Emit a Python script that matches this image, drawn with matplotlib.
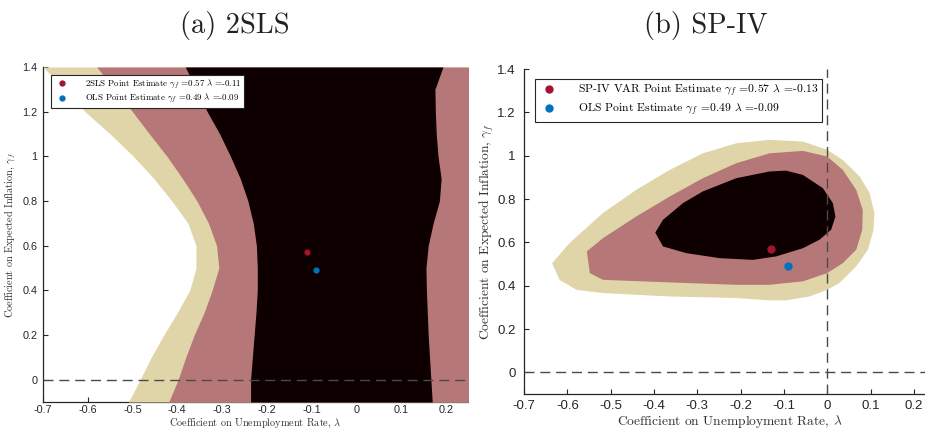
import matplotlib
matplotlib.use("Agg")
import matplotlib.pyplot as plt

plt.rcParams['mathtext.fontset'] = 'cm'
plt.rcParams['axes.unicode_minus'] = False
plt.rcParams['lines.scale_dashes'] = False

# ---------------- data: panel (a) 2SLS ----------------
# confidence-set boundaries, per gamma_f row: lambda at the region edge
gamma_a = [1.40, 1.30, 1.20, 1.10, 1.00, 0.90, 0.80, 0.70, 0.60, 0.50,
           0.40, 0.30, 0.20, 0.10, 0.00, -0.10]
outer_left_a = [-0.700, -0.650, -0.606, -0.550, -0.498, -0.452, -0.412, -0.376,
                -0.358, -0.358, -0.372, -0.400, -0.430, -0.458, -0.483, -0.509]
mid_left_a = [-0.580, -0.540, -0.500, -0.462, -0.423, -0.388, -0.356, -0.330,
              -0.312, -0.307, -0.322, -0.340, -0.362, -0.381, -0.398, -0.419]
inner_left_a = [-0.382, -0.357, -0.333, -0.305, -0.281, -0.259, -0.242, -0.230,
                -0.223, -0.221, -0.221, -0.224, -0.228, -0.232, -0.236, -0.236]
inner_right_a = [0.194, 0.176, 0.177, 0.179, 0.183, 0.190, 0.186, 0.172,
                 0.161, 0.156, 0.157, 0.159, 0.161, 0.164, 0.167, 0.170]
outer_right_a = [0.30] * len(gamma_a)

# ---------------- data: panel (b) SP-IV ----------------
outer_b_lam = [-0.635, -0.595, -0.518, -0.441, -0.364, -0.287, -0.210, -0.133, -0.056,
               0.000, 0.036, 0.075, 0.098, 0.109, 0.107, 0.094, 0.067, 0.028, 0.000,
               -0.041, -0.095, -0.133, -0.210, -0.364, -0.518, -0.579, -0.618]
outer_b_gam = [0.504, 0.596, 0.735, 0.842, 0.934, 1.011, 1.057, 1.073, 1.065,
               1.027, 0.980, 0.904, 0.827, 0.735, 0.658, 0.566, 0.489, 0.412, 0.381,
               0.350, 0.332, 0.332, 0.343, 0.350, 0.366, 0.381, 0.427]
mid_b_lam = [-0.555, -0.518, -0.441, -0.364, -0.287, -0.210, -0.133, -0.056, 0.000,
             0.036, 0.067, 0.082, 0.081, 0.067, 0.036, 0.000, -0.056, -0.133, -0.210,
             -0.364, -0.518, -0.548]
mid_b_gam = [0.558, 0.619, 0.719, 0.811, 0.896, 0.965, 1.011, 1.022, 0.996,
             0.934, 0.842, 0.750, 0.658, 0.566, 0.504, 0.458, 0.420, 0.404, 0.404,
             0.415, 0.427, 0.458]
inner_b_lam = [-0.397, -0.379, -0.333, -0.287, -0.210, -0.133, -0.095, -0.056, -0.010,
               0.013, 0.019, 0.009, -0.018, -0.056, -0.118, -0.172, -0.248, -0.325, -0.379]
inner_b_gam = [0.645, 0.704, 0.781, 0.835, 0.896, 0.927, 0.931, 0.911, 0.850,
               0.781, 0.719, 0.658, 0.612, 0.573, 0.535, 0.519, 0.527, 0.550, 0.581]

# point estimates
est_a = {"2SLS": (-0.11, 0.57), "OLS": (-0.09, 0.49)}
est_b = {"SP-IV VAR": (-0.13, 0.57), "OLS": (-0.09, 0.49)}

xticks = [-0.7, -0.6, -0.5, -0.4, -0.3, -0.2, -0.1, 0, 0.1, 0.2]
yticks = [0, 0.2, 0.4, 0.6, 0.8, 1, 1.2, 1.4]

C_OUT = "#e0d5a9"
C_MID = "#b57777"
C_IN = "#0e0001"
C_RED = "#a2142f"
C_BLUE = "#0072bd"
DASH = "#4a4a4a"

fig = plt.figure(figsize=(9.25, 4.29), dpi=100)
axa = fig.add_axes([43 / 925, (429 - 402) / 429, 425 / 925, 335 / 429])
# right panel extends to lambda = 0.25, partly beyond the figure edge (as in the reference)
axb = fig.add_axes([524 / 925, (429 - 394) / 429, 411.5 / 925, 325 / 429])

serif = 'cmr10'
tick_font = 'Liberation Sans'


def style(ax, lsize, tsize, xlim, ypad, xpad, tpad):
    ax.set_xlim(*xlim)
    ax.set_ylim(-0.1, 1.4)
    ax.set_xticks(xticks)
    ax.set_yticks(yticks)
    ax.set_xticklabels([f"{t:g}" for t in xticks], fontfamily=tick_font, fontsize=tsize, color="#262626")
    ax.set_yticklabels([f"{t:g}" for t in yticks], fontfamily=tick_font, fontsize=tsize, color="#262626")
    ax.tick_params(direction='in', length=3.5, width=0.8, color="#262626", pad=tpad)
    for s in ['top', 'right']:
        ax.spines[s].set_visible(False)
    for s in ['left', 'bottom']:
        ax.spines[s].set_color("#262626")
        ax.spines[s].set_linewidth(0.9)
    ax.set_xlabel(r'Coefficient on Unemployment Rate, $\lambda$', fontfamily=serif,
                  fontsize=lsize, color="#333333", labelpad=xpad)
    ax.set_ylabel(r'Coefficient on Expected Inflation, $\gamma_f$', fontfamily=serif,
                  fontsize=lsize, color="#333333", labelpad=ypad)


# ---- panel (a)
axa.fill_betweenx(gamma_a, outer_left_a, outer_right_a, color=C_OUT, lw=0, zorder=3)
axa.fill_betweenx(gamma_a, mid_left_a, outer_right_a, color=C_MID, lw=0, zorder=3.1)
axa.fill_betweenx(gamma_a, inner_left_a, inner_right_a, color=C_IN, lw=0, zorder=3.2)
axa.axhline(0, color=DASH, lw=1.0, dashes=(7.2, 4.2), zorder=4)
style(axa, 7.4, 7.8, (-0.7, 0.25), ypad=3, xpad=0.5, tpad=4)
axa.tick_params(axis='x', pad=2.5)
for (name, (lx, gy)), c in zip(est_a.items(), [C_RED, C_BLUE]):
    axa.plot([lx], [gy], 'o', color=c, ms=3.5, zorder=5,
             label=rf'{name} Point Estimate $\gamma_f$ ={gy:.2f} $\lambda$ =-{abs(lx):.2f}')
leg = axa.legend(loc='upper left', bbox_to_anchor=(7.5 / 425, 1 - 8 / 335),
                 prop={'family': serif, 'size': 6.4}, frameon=True, fancybox=False,
                 edgecolor='#262626', framealpha=1, borderpad=0.3, labelspacing=0.2,
                 handletextpad=1.6, handlelength=2.0, borderaxespad=0)
leg.get_frame().set_linewidth(0.8)
leg.set_zorder(6)

# ---- panel (b)
axb.fill(outer_b_lam, outer_b_gam, color=C_OUT, lw=0, zorder=3)
axb.fill(mid_b_lam, mid_b_gam, color=C_MID, lw=0, zorder=3.1)
axb.fill(inner_b_lam, inner_b_gam, color=C_IN, lw=0, zorder=3.2)
axb.axhline(0, color=DASH, lw=1.0, dashes=(7.2, 4.2), zorder=4)
axb.axvline(0, color=DASH, lw=1.0, dashes=(7.2, 4.2), zorder=4)
style(axb, 9.7, 9.5, (-0.7, 0.25), ypad=1, xpad=0.5, tpad=6)
axb.tick_params(axis='x', pad=4.5)
for (name, (lx, gy)), c in zip(est_b.items(), [C_RED, C_BLUE]):
    axb.plot([lx], [gy], 'o', color=c, ms=5, zorder=5,
             label=rf'{name} Point Estimate $\gamma_f$ ={gy:.2f} $\lambda$ =-{abs(lx):.2f}')
leg = axb.legend(loc='upper left', bbox_to_anchor=(11 / 411.5, 1 - 10 / 325),
                 prop={'family': serif, 'size': 8.4}, frameon=True, fancybox=False,
                 edgecolor='#262626', framealpha=1, borderpad=0.3, labelspacing=0.2,
                 handletextpad=1.6, handlelength=1.8, borderaxespad=0)
leg.get_frame().set_linewidth(0.8)
leg.set_zorder(6)

fig.text(235 / 925, 1 - 25.5 / 429, '(a) 2SLS', fontfamily=serif, fontsize=20.5,
         ha='center', va='center', color='#222222')
fig.text(706 / 925, 1 - 25.5 / 429, '(b) SP-IV', fontfamily=serif, fontsize=20.5,
         ha='center', va='center', color='#222222')

fig.savefig('out.png', dpi=100)
